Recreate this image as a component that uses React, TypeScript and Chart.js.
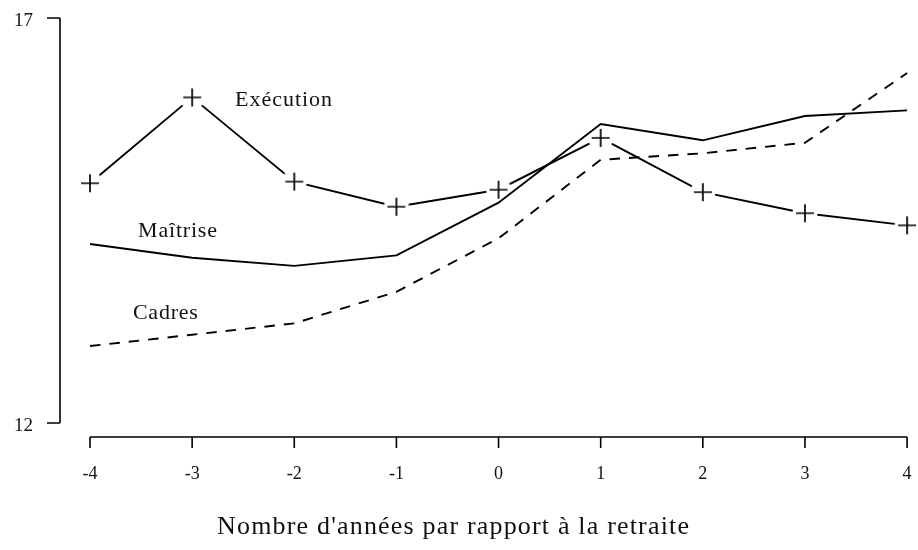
import React, { useEffect, useRef } from "react";
import { Chart, registerables } from "chart.js";

Chart.register(...registerables);

// ---- data ----
const years = [-4, -3, -2, -1, 0, 1, 2, 3, 4];
const execution = [14.96, 16.02, 14.98, 14.67, 14.88, 15.52, 14.85, 14.59, 14.44];
const maitrise = [14.21, 14.04, 13.94, 14.07, 14.72, 15.69, 15.49, 15.79, 15.86];
const cadres = [12.95, 13.09, 13.23, 13.62, 14.28, 15.25, 15.33, 15.46, 16.32];
const yTicks = [12, 17];
const xTicks = [-4, -3, -2, -1, 0, 1, 2, 3, 4];
const xTitle = "Nombre d'années par rapport à la retraite";
const seriesNames = ["Exécution", "Maîtrise", "Cadres"];
// label anchors in data coordinates (left edge, vertical middle)
const labelPos = [
  { x: -2.58, y: 15.99, w: 97 },
  { x: -3.53, y: 14.37, w: 79 },
  { x: -3.58, y: 13.36, w: 65 },
];

const FONT = '"Liberation Serif", "DejaVu Serif", serif';

function makeMarker(): HTMLCanvasElement {
  const c = document.createElement("canvas");
  c.width = 28;
  c.height = 28;
  const ctx = c.getContext("2d")!;
  ctx.fillStyle = "#ffffff";
  ctx.beginPath();
  ctx.arc(14, 14, 12.5, 0, Math.PI * 2);
  ctx.fill();
  ctx.strokeStyle = "#000000";
  ctx.lineWidth = 1.7;
  ctx.beginPath();
  ctx.moveTo(5, 14);
  ctx.lineTo(23, 14);
  ctx.moveTo(14, 5);
  ctx.lineTo(14, 23);
  ctx.stroke();
  return c;
}

function drawText(
  ctx: CanvasRenderingContext2D,
  text: string,
  x: number,
  y: number,
  size: number,
  align: CanvasTextAlign,
  targetWidth?: number
) {
  ctx.save();
  ctx.font = `${size}px ${FONT}`;
  ctx.fillStyle = "#111";
  ctx.textBaseline = "middle";
  let spacing = 0;
  (ctx as any).letterSpacing = "0px";
  if (targetWidth) {
    const w = ctx.measureText(text).width;
    spacing = Math.max(0, (targetWidth - w) / Math.max(1, text.length - 1));
    (ctx as any).letterSpacing = `${spacing}px`;
  }
  const total = ctx.measureText(text).width - spacing;
  let left = x;
  if (align === "center") left = x - total / 2;
  else if (align === "right") left = x - total;
  ctx.textAlign = "left";
  ctx.fillText(text, left, y);
  ctx.restore();
}

const axesPlugin = {
  id: "rAxes",
  afterDraw(chart: any) {
    const ctx: CanvasRenderingContext2D = chart.ctx;
    const xs = chart.scales.x;
    const ys = chart.scales.y;
    ctx.save();
    ctx.strokeStyle = "#000";
    ctx.lineWidth = 1.6;
    // y axis
    const yAxisX = 60;
    ctx.beginPath();
    ctx.moveTo(yAxisX, ys.getPixelForValue(yTicks[yTicks.length - 1]));
    ctx.lineTo(yAxisX, ys.getPixelForValue(yTicks[0]));
    for (const t of yTicks) {
      const py = ys.getPixelForValue(t);
      ctx.moveTo(yAxisX, py);
      ctx.lineTo(yAxisX - 13, py);
    }
    // x axis
    const xAxisY = 437;
    ctx.moveTo(xs.getPixelForValue(xTicks[0]), xAxisY);
    ctx.lineTo(xs.getPixelForValue(xTicks[xTicks.length - 1]), xAxisY);
    for (const t of xTicks) {
      const px = xs.getPixelForValue(t);
      ctx.moveTo(px, xAxisY);
      ctx.lineTo(px, xAxisY + 11);
    }
    ctx.stroke();
    ctx.restore();

    for (const t of yTicks) {
      drawText(ctx, String(t), 33, ys.getPixelForValue(t) + 3, 19, "right");
    }
    for (const t of xTicks) {
      drawText(ctx, String(t), xs.getPixelForValue(t), 474, 18, "center");
    }
    drawText(ctx, xTitle, 453, 527, 26, "center", 472);

    seriesNames.forEach((name, i) => {
      const p = labelPos[i];
      drawText(ctx, name, xs.getPixelForValue(p.x), ys.getPixelForValue(p.y), 22, "left", p.w);
    });
  },
};

export default function App() {
  const ref = useRef<HTMLCanvasElement>(null);
  useEffect(() => {
    const canvas = ref.current!;
    const marker = makeMarker();
    const toPts = (arr: number[]) => years.map((x, i) => ({ x, y: arr[i] }));
    const chart = new Chart(canvas, {
      type: "line",
      data: {
        datasets: [
          {
            label: seriesNames[0],
            data: toPts(execution),
            borderColor: "#000",
            borderWidth: 1.9,
            pointStyle: marker as any,
            pointRadius: 9,
            order: 3,
            clip: false as any,
          },
          {
            label: seriesNames[1],
            data: toPts(maitrise),
            borderColor: "#000",
            borderWidth: 1.9,
            pointRadius: 0,
            order: 2,
            clip: false as any,
          },
          {
            label: seriesNames[2],
            data: toPts(cadres),
            borderColor: "#000",
            borderWidth: 1.9,
            borderDash: [10.5, 9],
            pointRadius: 0,
            order: 1,
            clip: false as any,
          },
        ],
      },
      options: {
        responsive: false,
        animation: false,
        layout: { padding: { left: 90, right: 8, top: 18, bottom: 127 } },
        scales: {
          x: { type: "linear", min: -4, max: 4, display: false },
          y: { type: "linear", min: 12, max: 17, display: false },
        },
        plugins: {
          legend: { display: false },
          tooltip: { enabled: false },
          title: { display: false },
        },
        elements: { line: { tension: 0 } },
      },
      plugins: [axesPlugin],
    });
    return () => chart.destroy();
  }, []);
  return (
    <div style={{ position: "absolute", left: 0, top: 0, width: 918, height: 550, background: "#fff" }}>
      <canvas ref={ref} width={918} height={550} />
    </div>
  );
}
